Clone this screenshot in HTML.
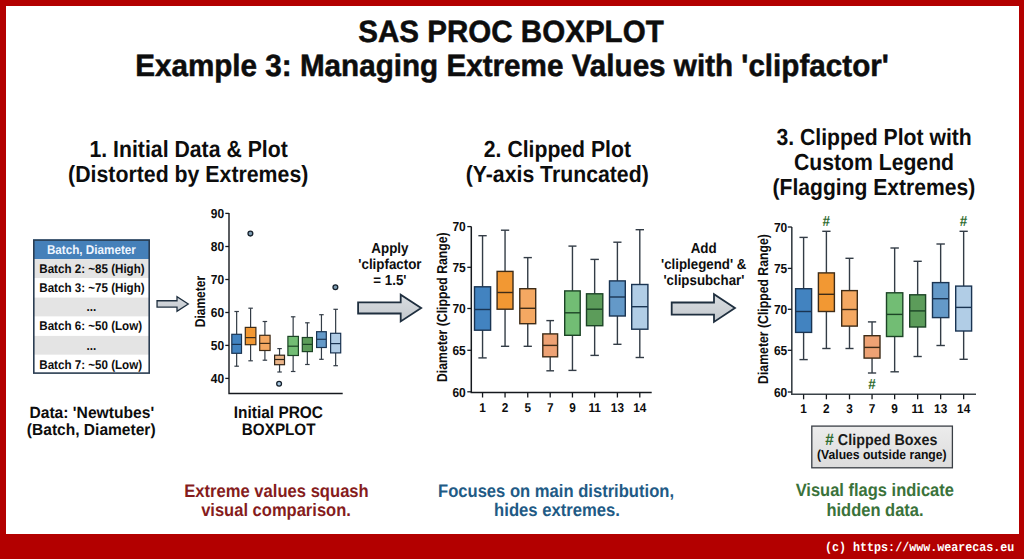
<!DOCTYPE html>
<html><head><meta charset="utf-8"><title>SAS PROC BOXPLOT clipfactor</title>
<style>
html,body{margin:0;padding:0;background:#fff;}
body{width:1024px;height:559px;overflow:hidden;}
svg{display:block;font-family:"Liberation Sans", sans-serif;text-rendering:geometricPrecision;}
</style></head><body>
<svg width="1024" height="559" viewBox="0 0 1024 559">
<defs>
<linearGradient id="ag" x1="0" y1="0" x2="0" y2="1"><stop offset="0" stop-color="#d9dde1"/><stop offset="1" stop-color="#c3c8cd"/></linearGradient>
<linearGradient id="lg" x1="0" y1="0" x2="0" y2="1"><stop offset="0" stop-color="#ececec"/><stop offset="1" stop-color="#dcdcdc"/></linearGradient>
</defs>
<rect x="0" y="0" width="1024" height="559" fill="#b30000"/>
<rect x="6" y="6" width="1013" height="528" fill="#ffffff"/>
<text transform="translate(511 41.9) scale(1.0 1.04)" font-size="29.55" text-anchor="middle" fill="#0d0d0d" font-weight="bold" stroke="#0d0d0d" stroke-width="0.5">SAS PROC BOXPLOT</text>
<text transform="translate(512 76.2) scale(1.0 1.04)" font-size="29.65" text-anchor="middle" fill="#0d0d0d" font-weight="bold" stroke="#0d0d0d" stroke-width="0.5">Example 3: Managing Extreme Values with 'clipfactor'</text>
<text transform="translate(188.6 156.7) scale(1.0 1.1)" font-size="21.25" text-anchor="middle" fill="#0d0d0d" font-weight="bold">1. Initial Data &amp; Plot</text>
<text transform="translate(188.2 182.2) scale(1.0 1.1)" font-size="21.3" text-anchor="middle" fill="#0d0d0d" font-weight="bold">(Distorted by Extremes)</text>
<text transform="translate(557.4 157.3) scale(1.0 1.1)" font-size="21.2" text-anchor="middle" fill="#0d0d0d" font-weight="bold">2. Clipped Plot</text>
<text transform="translate(557.2 181.8) scale(1.0 1.1)" font-size="21.25" text-anchor="middle" fill="#0d0d0d" font-weight="bold">(Y-axis Truncated)</text>
<text transform="translate(874.1 144.7) scale(1.0 1.1)" font-size="21.2" text-anchor="middle" fill="#0d0d0d" font-weight="bold">3. Clipped Plot with</text>
<text transform="translate(874 170.1) scale(1.0 1.1)" font-size="21.2" text-anchor="middle" fill="#0d0d0d" font-weight="bold">Custom Legend</text>
<text transform="translate(873.9 194.5) scale(1.0 1.1)" font-size="21.1" text-anchor="middle" fill="#0d0d0d" font-weight="bold">(Flagging Extremes)</text>
<rect x="33.1" y="239.4" width="116.8" height="19.6" fill="#4580b9"/>
<rect x="33.1" y="259" width="116.8" height="19.2" fill="#e4e4e4"/>
<rect x="33.1" y="278.2" width="116.8" height="19.4" fill="#ffffff"/>
<rect x="33.1" y="297.6" width="116.8" height="19.0" fill="#e4e4e4"/>
<rect x="33.1" y="316.6" width="116.8" height="19.3" fill="#ffffff"/>
<rect x="33.1" y="335.9" width="116.8" height="18.9" fill="#e4e4e4"/>
<rect x="33.1" y="354.8" width="116.8" height="19.0" fill="#ffffff"/>
<rect x="33.8" y="240.1" width="115.4" height="133.0" fill="none" stroke="#2a3d52" stroke-width="1.6"/>
<text transform="translate(91.4 253.8) scale(1.0 1.09)" font-size="11.7" text-anchor="middle" fill="#eef6ff" font-weight="bold">Batch, Diameter</text>
<text transform="translate(39.3 272.8) scale(1.0 1.09)" font-size="11.6" text-anchor="start" fill="#0d0d0d" font-weight="bold">Batch 2: ~85 (High)</text>
<text transform="translate(39.3 292.1) scale(1.0 1.09)" font-size="11.6" text-anchor="start" fill="#0d0d0d" font-weight="bold">Batch 3: ~75 (High)</text>
<text transform="translate(91.4 311.3) scale(1.0 1.09)" font-size="11.7" text-anchor="middle" fill="#0d0d0d" font-weight="bold">...</text>
<text transform="translate(39.3 330.4) scale(1.0 1.09)" font-size="11.6" text-anchor="start" fill="#0d0d0d" font-weight="bold">Batch 6: ~50 (Low)</text>
<text transform="translate(91.4 349.6) scale(1.0 1.09)" font-size="11.7" text-anchor="middle" fill="#0d0d0d" font-weight="bold">...</text>
<text transform="translate(39.3 368.5) scale(1.0 1.09)" font-size="11.6" text-anchor="start" fill="#0d0d0d" font-weight="bold">Batch 7: ~50 (Low)</text>
<text transform="translate(91.8 417.8) scale(1.0 1.04)" font-size="15.65" text-anchor="middle" fill="#0d0d0d" font-weight="bold">Data: 'Newtubes'</text>
<text transform="translate(91.2 434.5) scale(1.0 1.04)" font-size="15.55" text-anchor="middle" fill="#0d0d0d" font-weight="bold">(Batch, Diameter)</text>
<text transform="translate(278.4 417.7) scale(1.0 1.09)" font-size="15.45" text-anchor="middle" fill="#0d0d0d" font-weight="bold">Initial PROC</text>
<text transform="translate(278.7 435.3) scale(1.0 1.09)" font-size="15.25" text-anchor="middle" fill="#0d0d0d" font-weight="bold">BOXPLOT</text>
<path d="M157.05,300.75 L177,300.75 L177,296.75 L188.26,304.05 L177,311.35 L177,307.05 L157.05,307.05 Z" fill="url(#ag)" stroke="#1f2f3f" stroke-width="1.3" stroke-linejoin="miter"/>
<path d="M358.1,302.4 L400.7,302.4 L400.7,294.77 L421.16,308.1 L400.7,321.43 L400.7,313.5 L358.1,313.5 Z" fill="url(#ag)" stroke="#1f2f3f" stroke-width="1.8" stroke-linejoin="miter"/>
<path d="M671.7,302.5 L714,302.5 L714,294.17 L734.96,308.05 L714,321.93 L714,314.7 L671.7,314.7 Z" fill="url(#ag)" stroke="#1f2f3f" stroke-width="1.8" stroke-linejoin="miter"/>
<text transform="translate(389.9 253.1) scale(1.0 1.09)" font-size="13.4" text-anchor="middle" fill="#0d0d0d" font-weight="bold">Apply</text>
<text transform="translate(389.9 269.0) scale(1.0 1.09)" font-size="13.35" text-anchor="middle" fill="#0d0d0d" font-weight="bold">'clipfactor</text>
<text transform="translate(389.9 284.7) scale(1.0 1.09)" font-size="13.3" text-anchor="middle" fill="#0d0d0d" font-weight="bold">= 1.5'</text>
<text transform="translate(703.7 252.7) scale(1.0 1.09)" font-size="13.4" text-anchor="middle" fill="#0d0d0d" font-weight="bold">Add</text>
<text transform="translate(703.7 268.9) scale(1.0 1.09)" font-size="13.3" text-anchor="middle" fill="#0d0d0d" font-weight="bold">'cliplegend' &amp;</text>
<text transform="translate(703.9 285) scale(1.0 1.09)" font-size="13.3" text-anchor="middle" fill="#0d0d0d" font-weight="bold">'clipsubchar'</text>
<path d="M229,213.0 L229,393.5 L342.7,393.5" fill="none" stroke="#15191e" stroke-width="1.4"/>
<line x1="225.3" y1="213.4" x2="229" y2="213.4" stroke="#15191e" stroke-width="1.3"/>
<text transform="translate(224.2 217.7) scale(1.0 1.09)" font-size="12" text-anchor="end" fill="#0d0d0d" font-weight="bold">90</text>
<line x1="225.3" y1="246.5" x2="229" y2="246.5" stroke="#15191e" stroke-width="1.3"/>
<text transform="translate(224.2 250.8) scale(1.0 1.09)" font-size="12" text-anchor="end" fill="#0d0d0d" font-weight="bold">80</text>
<line x1="225.3" y1="279.5" x2="229" y2="279.5" stroke="#15191e" stroke-width="1.3"/>
<text transform="translate(224.2 283.8) scale(1.0 1.09)" font-size="12" text-anchor="end" fill="#0d0d0d" font-weight="bold">70</text>
<line x1="225.3" y1="312.5" x2="229" y2="312.5" stroke="#15191e" stroke-width="1.3"/>
<text transform="translate(224.2 316.8) scale(1.0 1.09)" font-size="12" text-anchor="end" fill="#0d0d0d" font-weight="bold">60</text>
<line x1="225.3" y1="345.4" x2="229" y2="345.4" stroke="#15191e" stroke-width="1.3"/>
<text transform="translate(224.2 349.7) scale(1.0 1.09)" font-size="12" text-anchor="end" fill="#0d0d0d" font-weight="bold">50</text>
<line x1="225.3" y1="378.4" x2="229" y2="378.4" stroke="#15191e" stroke-width="1.3"/>
<text transform="translate(224.2 382.7) scale(1.0 1.09)" font-size="12" text-anchor="end" fill="#0d0d0d" font-weight="bold">40</text>
<text transform="translate(204.5 301.6) rotate(-90) scale(1.0 1.19)" font-size="12" text-anchor="middle" fill="#0d0d0d" font-weight="bold">Diameter</text>
<line x1="236.65" y1="311.5" x2="236.65" y2="334.3" stroke="#333c46" stroke-width="1.2"/>
<line x1="236.65" y1="353.3" x2="236.65" y2="366.2" stroke="#333c46" stroke-width="1.2"/>
<line x1="234.4" y1="311.5" x2="238.9" y2="311.5" stroke="#333c46" stroke-width="1.2"/>
<line x1="234.4" y1="366.2" x2="238.9" y2="366.2" stroke="#333c46" stroke-width="1.2"/>
<rect x="231.8" y="334.3" width="9.7" height="19.0" fill="#4283c0" stroke="#1a3452" stroke-width="1.2"/>
<line x1="231.8" y1="344.4" x2="241.5" y2="344.4" stroke="#1a3452" stroke-width="1.2"/>
<line x1="250.6" y1="308.2" x2="250.6" y2="327.4" stroke="#333c46" stroke-width="1.2"/>
<line x1="250.6" y1="344.7" x2="250.6" y2="360.8" stroke="#333c46" stroke-width="1.2"/>
<line x1="248.35" y1="308.2" x2="252.85" y2="308.2" stroke="#333c46" stroke-width="1.2"/>
<line x1="248.35" y1="360.8" x2="252.85" y2="360.8" stroke="#333c46" stroke-width="1.2"/>
<rect x="245.3" y="327.4" width="10.6" height="17.3" fill="#f29833" stroke="#3e2c18" stroke-width="1.2"/>
<line x1="245.3" y1="337.6" x2="255.9" y2="337.6" stroke="#3e2c18" stroke-width="1.2"/>
<line x1="264.9" y1="321.5" x2="264.9" y2="335.3" stroke="#333c46" stroke-width="1.2"/>
<line x1="264.9" y1="350.5" x2="264.9" y2="360.2" stroke="#333c46" stroke-width="1.2"/>
<line x1="262.65" y1="321.5" x2="267.15" y2="321.5" stroke="#333c46" stroke-width="1.2"/>
<line x1="262.65" y1="360.2" x2="267.15" y2="360.2" stroke="#333c46" stroke-width="1.2"/>
<rect x="259.7" y="335.3" width="10.4" height="15.2" fill="#f4a862" stroke="#3e2c18" stroke-width="1.2"/>
<line x1="259.7" y1="343.4" x2="270.1" y2="343.4" stroke="#3e2c18" stroke-width="1.2"/>
<line x1="279.55" y1="348.6" x2="279.55" y2="355.2" stroke="#333c46" stroke-width="1.2"/>
<line x1="279.55" y1="364.7" x2="279.55" y2="372" stroke="#333c46" stroke-width="1.2"/>
<line x1="277.3" y1="348.6" x2="281.8" y2="348.6" stroke="#333c46" stroke-width="1.2"/>
<line x1="277.3" y1="372" x2="281.8" y2="372" stroke="#333c46" stroke-width="1.2"/>
<rect x="274.6" y="355.2" width="9.9" height="9.5" fill="#ebb488" stroke="#2e2418" stroke-width="1.2"/>
<line x1="274.6" y1="359.5" x2="284.5" y2="359.5" stroke="#2e2418" stroke-width="1.2"/>
<line x1="293.15" y1="316.8" x2="293.15" y2="336.4" stroke="#333c46" stroke-width="1.2"/>
<line x1="293.15" y1="355.5" x2="293.15" y2="371.5" stroke="#333c46" stroke-width="1.2"/>
<line x1="290.9" y1="316.8" x2="295.4" y2="316.8" stroke="#333c46" stroke-width="1.2"/>
<line x1="290.9" y1="371.5" x2="295.4" y2="371.5" stroke="#333c46" stroke-width="1.2"/>
<rect x="287.9" y="336.4" width="10.5" height="19.1" fill="#72bd74" stroke="#1c4426" stroke-width="1.2"/>
<line x1="287.9" y1="346.2" x2="298.4" y2="346.2" stroke="#1c4426" stroke-width="1.2"/>
<line x1="307.35" y1="322.8" x2="307.35" y2="337.5" stroke="#333c46" stroke-width="1.2"/>
<line x1="307.35" y1="351.6" x2="307.35" y2="364.5" stroke="#333c46" stroke-width="1.2"/>
<line x1="305.1" y1="322.8" x2="309.6" y2="322.8" stroke="#333c46" stroke-width="1.2"/>
<line x1="305.1" y1="364.5" x2="309.6" y2="364.5" stroke="#333c46" stroke-width="1.2"/>
<rect x="302.3" y="337.5" width="10.1" height="14.1" fill="#5c9c5a" stroke="#1c4426" stroke-width="1.2"/>
<line x1="302.3" y1="344.4" x2="312.4" y2="344.4" stroke="#1c4426" stroke-width="1.2"/>
<line x1="321.45" y1="314.7" x2="321.45" y2="331.7" stroke="#333c46" stroke-width="1.2"/>
<line x1="321.45" y1="347.5" x2="321.45" y2="359.3" stroke="#333c46" stroke-width="1.2"/>
<line x1="319.2" y1="314.7" x2="323.7" y2="314.7" stroke="#333c46" stroke-width="1.2"/>
<line x1="319.2" y1="359.3" x2="323.7" y2="359.3" stroke="#333c46" stroke-width="1.2"/>
<rect x="316.6" y="331.7" width="9.7" height="15.8" fill="#6499c8" stroke="#1a3452" stroke-width="1.2"/>
<line x1="316.6" y1="339.3" x2="326.3" y2="339.3" stroke="#1a3452" stroke-width="1.2"/>
<line x1="335.65" y1="309.3" x2="335.65" y2="333.3" stroke="#333c46" stroke-width="1.2"/>
<line x1="335.65" y1="352.9" x2="335.65" y2="365.7" stroke="#333c46" stroke-width="1.2"/>
<line x1="333.4" y1="309.3" x2="337.9" y2="309.3" stroke="#333c46" stroke-width="1.2"/>
<line x1="333.4" y1="365.7" x2="337.9" y2="365.7" stroke="#333c46" stroke-width="1.2"/>
<rect x="330.6" y="333.3" width="10.1" height="19.6" fill="#b1cde6" stroke="#1a3452" stroke-width="1.2"/>
<line x1="330.6" y1="343.6" x2="340.7" y2="343.6" stroke="#1a3452" stroke-width="1.2"/>
<circle cx="250.4" cy="233.6" r="2.4" fill="#7d9cb2" stroke="#16212c" stroke-width="1.3"/>
<circle cx="279.1" cy="383.8" r="2.4" fill="#a9c9e2" stroke="#16212c" stroke-width="1.3"/>
<circle cx="335.4" cy="287.2" r="2.4" fill="#7d9cb2" stroke="#16212c" stroke-width="1.3"/>
<path d="M471.3,226.6 L471.3,392.5 L651.7,392.5" fill="none" stroke="#15191e" stroke-width="1.5"/>
<line x1="467.3" y1="226.6" x2="471.3" y2="226.6" stroke="#15191e" stroke-width="1.3"/>
<text transform="translate(465.8 231.3) scale(1.0 1.09)" font-size="12" text-anchor="end" fill="#0d0d0d" font-weight="bold">70</text>
<line x1="467.3" y1="267.3" x2="471.3" y2="267.3" stroke="#15191e" stroke-width="1.3"/>
<text transform="translate(465.8 272.0) scale(1.0 1.09)" font-size="12" text-anchor="end" fill="#0d0d0d" font-weight="bold">75</text>
<line x1="467.3" y1="308.5" x2="471.3" y2="308.5" stroke="#15191e" stroke-width="1.3"/>
<text transform="translate(465.8 313.2) scale(1.0 1.09)" font-size="12" text-anchor="end" fill="#0d0d0d" font-weight="bold">70</text>
<line x1="467.3" y1="350.3" x2="471.3" y2="350.3" stroke="#15191e" stroke-width="1.3"/>
<text transform="translate(465.8 355.0) scale(1.0 1.09)" font-size="12" text-anchor="end" fill="#0d0d0d" font-weight="bold">65</text>
<line x1="467.3" y1="391.8" x2="471.3" y2="391.8" stroke="#15191e" stroke-width="1.3"/>
<text transform="translate(465.8 396.5) scale(1.0 1.09)" font-size="12" text-anchor="end" fill="#0d0d0d" font-weight="bold">60</text>
<line x1="482.55" y1="392.5" x2="482.55" y2="397.5" stroke="#15191e" stroke-width="1.3"/>
<text transform="translate(482.55 412) scale(1.0 1.09)" font-size="11.8" text-anchor="middle" fill="#0d0d0d" font-weight="bold">1</text>
<line x1="482.55" y1="235.7" x2="482.55" y2="286.8" stroke="#333c46" stroke-width="1.4"/>
<line x1="482.55" y1="330.2" x2="482.55" y2="357.9" stroke="#333c46" stroke-width="1.4"/>
<line x1="478.37" y1="235.7" x2="486.72" y2="235.7" stroke="#333c46" stroke-width="1.4"/>
<line x1="478.37" y1="357.9" x2="486.72" y2="357.9" stroke="#333c46" stroke-width="1.4"/>
<rect x="474.5" y="286.8" width="16.1" height="43.4" fill="#4283c0" stroke="#1a3452" stroke-width="1.4"/>
<line x1="474.5" y1="309.5" x2="490.6" y2="309.5" stroke="#1a3452" stroke-width="1.4"/>
<line x1="505.05" y1="392.5" x2="505.05" y2="397.5" stroke="#15191e" stroke-width="1.3"/>
<text transform="translate(505.05 412) scale(1.0 1.09)" font-size="11.8" text-anchor="middle" fill="#0d0d0d" font-weight="bold">2</text>
<line x1="505.05" y1="230.2" x2="505.05" y2="271.4" stroke="#333c46" stroke-width="1.4"/>
<line x1="505.05" y1="309.2" x2="505.05" y2="346.3" stroke="#333c46" stroke-width="1.4"/>
<line x1="500.93" y1="230.2" x2="509.18" y2="230.2" stroke="#333c46" stroke-width="1.4"/>
<line x1="500.93" y1="346.3" x2="509.18" y2="346.3" stroke="#333c46" stroke-width="1.4"/>
<rect x="497.1" y="271.4" width="15.9" height="37.8" fill="#f29833" stroke="#3e2c18" stroke-width="1.4"/>
<line x1="497.1" y1="292.5" x2="513.0" y2="292.5" stroke="#3e2c18" stroke-width="1.4"/>
<line x1="527.75" y1="392.5" x2="527.75" y2="397.5" stroke="#15191e" stroke-width="1.3"/>
<text transform="translate(527.75 412) scale(1.0 1.09)" font-size="11.8" text-anchor="middle" fill="#0d0d0d" font-weight="bold">5</text>
<line x1="527.75" y1="257.6" x2="527.75" y2="288.7" stroke="#333c46" stroke-width="1.4"/>
<line x1="527.75" y1="323.7" x2="527.75" y2="346.3" stroke="#333c46" stroke-width="1.4"/>
<line x1="523.62" y1="257.6" x2="531.88" y2="257.6" stroke="#333c46" stroke-width="1.4"/>
<line x1="523.62" y1="346.3" x2="531.88" y2="346.3" stroke="#333c46" stroke-width="1.4"/>
<rect x="519.8" y="288.7" width="15.9" height="35.0" fill="#f4a862" stroke="#3e2c18" stroke-width="1.4"/>
<line x1="519.8" y1="308.3" x2="535.7" y2="308.3" stroke="#3e2c18" stroke-width="1.4"/>
<line x1="550.2" y1="392.5" x2="550.2" y2="397.5" stroke="#15191e" stroke-width="1.3"/>
<text transform="translate(550.2 412) scale(1.0 1.09)" font-size="11.8" text-anchor="middle" fill="#0d0d0d" font-weight="bold">7</text>
<line x1="550.2" y1="320.6" x2="550.2" y2="333.9" stroke="#333c46" stroke-width="1.4"/>
<line x1="550.2" y1="356.8" x2="550.2" y2="370.8" stroke="#333c46" stroke-width="1.4"/>
<line x1="546.35" y1="320.6" x2="554.05" y2="320.6" stroke="#333c46" stroke-width="1.4"/>
<line x1="546.35" y1="370.8" x2="554.05" y2="370.8" stroke="#333c46" stroke-width="1.4"/>
<rect x="542.8" y="333.9" width="14.8" height="22.9" fill="#eea274" stroke="#3e2c18" stroke-width="1.4"/>
<line x1="542.8" y1="345.4" x2="557.6" y2="345.4" stroke="#3e2c18" stroke-width="1.4"/>
<line x1="572.45" y1="392.5" x2="572.45" y2="397.5" stroke="#15191e" stroke-width="1.3"/>
<text transform="translate(572.45 412) scale(1.0 1.09)" font-size="11.8" text-anchor="middle" fill="#0d0d0d" font-weight="bold">9</text>
<line x1="572.45" y1="246.1" x2="572.45" y2="290.9" stroke="#333c46" stroke-width="1.4"/>
<line x1="572.45" y1="335.3" x2="572.45" y2="370.4" stroke="#333c46" stroke-width="1.4"/>
<line x1="568.43" y1="246.1" x2="576.48" y2="246.1" stroke="#333c46" stroke-width="1.4"/>
<line x1="568.43" y1="370.4" x2="576.48" y2="370.4" stroke="#333c46" stroke-width="1.4"/>
<rect x="564.7" y="290.9" width="15.5" height="44.4" fill="#72bd74" stroke="#1c4426" stroke-width="1.4"/>
<line x1="564.7" y1="312.8" x2="580.2" y2="312.8" stroke="#1c4426" stroke-width="1.4"/>
<line x1="594.65" y1="392.5" x2="594.65" y2="397.5" stroke="#15191e" stroke-width="1.3"/>
<text transform="translate(594.65 412) scale(1.0 1.09)" font-size="11.8" text-anchor="middle" fill="#0d0d0d" font-weight="bold">11</text>
<line x1="594.65" y1="259.4" x2="594.65" y2="293.8" stroke="#333c46" stroke-width="1.4"/>
<line x1="594.65" y1="325.7" x2="594.65" y2="355.4" stroke="#333c46" stroke-width="1.4"/>
<line x1="590.43" y1="259.4" x2="598.88" y2="259.4" stroke="#333c46" stroke-width="1.4"/>
<line x1="590.43" y1="355.4" x2="598.88" y2="355.4" stroke="#333c46" stroke-width="1.4"/>
<rect x="586.5" y="293.8" width="16.3" height="31.9" fill="#5c9c5a" stroke="#1c4426" stroke-width="1.4"/>
<line x1="586.5" y1="309.2" x2="602.8" y2="309.2" stroke="#1c4426" stroke-width="1.4"/>
<line x1="617.4" y1="392.5" x2="617.4" y2="397.5" stroke="#15191e" stroke-width="1.3"/>
<text transform="translate(617.4 412) scale(1.0 1.09)" font-size="11.8" text-anchor="middle" fill="#0d0d0d" font-weight="bold">13</text>
<line x1="617.4" y1="242.2" x2="617.4" y2="280.9" stroke="#333c46" stroke-width="1.4"/>
<line x1="617.4" y1="316" x2="617.4" y2="344.3" stroke="#333c46" stroke-width="1.4"/>
<line x1="613.3" y1="242.2" x2="621.5" y2="242.2" stroke="#333c46" stroke-width="1.4"/>
<line x1="613.3" y1="344.3" x2="621.5" y2="344.3" stroke="#333c46" stroke-width="1.4"/>
<rect x="609.5" y="280.9" width="15.8" height="35.1" fill="#6499c8" stroke="#1a3452" stroke-width="1.4"/>
<line x1="609.5" y1="297" x2="625.3" y2="297" stroke="#1a3452" stroke-width="1.4"/>
<line x1="639.8" y1="392.5" x2="639.8" y2="397.5" stroke="#15191e" stroke-width="1.3"/>
<text transform="translate(639.8 412) scale(1.0 1.09)" font-size="11.8" text-anchor="middle" fill="#0d0d0d" font-weight="bold">14</text>
<line x1="639.8" y1="229.7" x2="639.8" y2="284.5" stroke="#333c46" stroke-width="1.4"/>
<line x1="639.8" y1="329.2" x2="639.8" y2="357.5" stroke="#333c46" stroke-width="1.4"/>
<line x1="635.6" y1="229.7" x2="644.0" y2="229.7" stroke="#333c46" stroke-width="1.4"/>
<line x1="635.6" y1="357.5" x2="644.0" y2="357.5" stroke="#333c46" stroke-width="1.4"/>
<rect x="631.7" y="284.5" width="16.2" height="44.7" fill="#b1cde6" stroke="#1a3452" stroke-width="1.4"/>
<line x1="631.7" y1="306.7" x2="647.9" y2="306.7" stroke="#1a3452" stroke-width="1.4"/>
<text transform="translate(447 307.2) rotate(-90) scale(1.0 1.17)" font-size="12.25" text-anchor="middle" fill="#0d0d0d" font-weight="bold">Diameter (Clipped Range)</text>
<path d="M791.8,227.0 L791.8,394.3 L976,394.3" fill="none" stroke="#3a4248" stroke-width="1.6"/>
<line x1="787.8" y1="227.0" x2="791.8" y2="227.0" stroke="#15191e" stroke-width="1.3"/>
<text transform="translate(787.3 231.7) scale(1.0 1.09)" font-size="12" text-anchor="end" fill="#0d0d0d" font-weight="bold">70</text>
<line x1="787.8" y1="268.4" x2="791.8" y2="268.4" stroke="#15191e" stroke-width="1.3"/>
<text transform="translate(787.3 273.1) scale(1.0 1.09)" font-size="12" text-anchor="end" fill="#0d0d0d" font-weight="bold">75</text>
<line x1="787.8" y1="309.3" x2="791.8" y2="309.3" stroke="#15191e" stroke-width="1.3"/>
<text transform="translate(787.3 314.0) scale(1.0 1.09)" font-size="12" text-anchor="end" fill="#0d0d0d" font-weight="bold">70</text>
<line x1="787.8" y1="350.3" x2="791.8" y2="350.3" stroke="#15191e" stroke-width="1.3"/>
<text transform="translate(787.3 355.0) scale(1.0 1.09)" font-size="12" text-anchor="end" fill="#0d0d0d" font-weight="bold">65</text>
<line x1="787.8" y1="392.0" x2="791.8" y2="392.0" stroke="#15191e" stroke-width="1.3"/>
<text transform="translate(787.3 396.7) scale(1.0 1.09)" font-size="12" text-anchor="end" fill="#0d0d0d" font-weight="bold">60</text>
<line x1="803.6" y1="394.3" x2="803.6" y2="399.3" stroke="#15191e" stroke-width="1.3"/>
<text transform="translate(803.6 413.3) scale(1.0 1.09)" font-size="11.8" text-anchor="middle" fill="#0d0d0d" font-weight="bold">1</text>
<line x1="803.6" y1="237.4" x2="803.6" y2="288.7" stroke="#333c46" stroke-width="1.4"/>
<line x1="803.6" y1="332.4" x2="803.6" y2="359.6" stroke="#333c46" stroke-width="1.4"/>
<line x1="799.45" y1="237.4" x2="807.75" y2="237.4" stroke="#333c46" stroke-width="1.4"/>
<line x1="799.45" y1="359.6" x2="807.75" y2="359.6" stroke="#333c46" stroke-width="1.4"/>
<rect x="795.6" y="288.7" width="16" height="43.7" fill="#4283c0" stroke="#1a3452" stroke-width="1.4"/>
<line x1="795.6" y1="311.5" x2="811.6" y2="311.5" stroke="#1a3452" stroke-width="1.4"/>
<line x1="826.4" y1="394.3" x2="826.4" y2="399.3" stroke="#15191e" stroke-width="1.3"/>
<text transform="translate(826.4 413.3) scale(1.0 1.09)" font-size="11.8" text-anchor="middle" fill="#0d0d0d" font-weight="bold">2</text>
<line x1="826.4" y1="231.3" x2="826.4" y2="272.9" stroke="#333c46" stroke-width="1.4"/>
<line x1="826.4" y1="311.5" x2="826.4" y2="348.5" stroke="#333c46" stroke-width="1.4"/>
<line x1="822.25" y1="231.3" x2="830.55" y2="231.3" stroke="#333c46" stroke-width="1.4"/>
<line x1="822.25" y1="348.5" x2="830.55" y2="348.5" stroke="#333c46" stroke-width="1.4"/>
<rect x="818.4" y="272.9" width="16" height="38.6" fill="#f29833" stroke="#3e2c18" stroke-width="1.4"/>
<line x1="818.4" y1="294.3" x2="834.4" y2="294.3" stroke="#3e2c18" stroke-width="1.4"/>
<line x1="849.5" y1="394.3" x2="849.5" y2="399.3" stroke="#15191e" stroke-width="1.3"/>
<text transform="translate(849.5 413.3) scale(1.0 1.09)" font-size="11.8" text-anchor="middle" fill="#0d0d0d" font-weight="bold">3</text>
<line x1="849.5" y1="258.3" x2="849.5" y2="290.6" stroke="#333c46" stroke-width="1.4"/>
<line x1="849.5" y1="326.1" x2="849.5" y2="348.5" stroke="#333c46" stroke-width="1.4"/>
<line x1="845.45" y1="258.3" x2="853.55" y2="258.3" stroke="#333c46" stroke-width="1.4"/>
<line x1="845.45" y1="348.5" x2="853.55" y2="348.5" stroke="#333c46" stroke-width="1.4"/>
<rect x="841.7" y="290.6" width="15.6" height="35.5" fill="#f4a862" stroke="#3e2c18" stroke-width="1.4"/>
<line x1="841.7" y1="309.5" x2="857.3" y2="309.5" stroke="#3e2c18" stroke-width="1.4"/>
<line x1="872.05" y1="394.3" x2="872.05" y2="399.3" stroke="#15191e" stroke-width="1.3"/>
<text transform="translate(872.05 413.3) scale(1.0 1.09)" font-size="11.8" text-anchor="middle" fill="#0d0d0d" font-weight="bold">7</text>
<line x1="872.05" y1="321.9" x2="872.05" y2="335.7" stroke="#333c46" stroke-width="1.4"/>
<line x1="872.05" y1="358.1" x2="872.05" y2="373" stroke="#333c46" stroke-width="1.4"/>
<line x1="867.92" y1="321.9" x2="876.17" y2="321.9" stroke="#333c46" stroke-width="1.4"/>
<line x1="867.92" y1="373" x2="876.17" y2="373" stroke="#333c46" stroke-width="1.4"/>
<rect x="864.1" y="335.7" width="15.9" height="22.4" fill="#eea274" stroke="#3e2c18" stroke-width="1.4"/>
<line x1="864.1" y1="347.4" x2="880.0" y2="347.4" stroke="#3e2c18" stroke-width="1.4"/>
<line x1="894.65" y1="394.3" x2="894.65" y2="399.3" stroke="#15191e" stroke-width="1.3"/>
<text transform="translate(894.65 413.3) scale(1.0 1.09)" font-size="11.8" text-anchor="middle" fill="#0d0d0d" font-weight="bold">9</text>
<line x1="894.65" y1="248" x2="894.65" y2="292.8" stroke="#333c46" stroke-width="1.4"/>
<line x1="894.65" y1="336.5" x2="894.65" y2="371.8" stroke="#333c46" stroke-width="1.4"/>
<line x1="890.43" y1="248" x2="898.88" y2="248" stroke="#333c46" stroke-width="1.4"/>
<line x1="890.43" y1="371.8" x2="898.88" y2="371.8" stroke="#333c46" stroke-width="1.4"/>
<rect x="886.5" y="292.8" width="16.3" height="43.7" fill="#72bd74" stroke="#1c4426" stroke-width="1.4"/>
<line x1="886.5" y1="314.4" x2="902.8" y2="314.4" stroke="#1c4426" stroke-width="1.4"/>
<line x1="917.65" y1="394.3" x2="917.65" y2="399.3" stroke="#15191e" stroke-width="1.3"/>
<text transform="translate(917.65 413.3) scale(1.0 1.09)" font-size="11.8" text-anchor="middle" fill="#0d0d0d" font-weight="bold">11</text>
<line x1="917.65" y1="261.3" x2="917.65" y2="294.8" stroke="#333c46" stroke-width="1.4"/>
<line x1="917.65" y1="327" x2="917.65" y2="356.5" stroke="#333c46" stroke-width="1.4"/>
<line x1="913.52" y1="261.3" x2="921.77" y2="261.3" stroke="#333c46" stroke-width="1.4"/>
<line x1="913.52" y1="356.5" x2="921.77" y2="356.5" stroke="#333c46" stroke-width="1.4"/>
<rect x="909.7" y="294.8" width="15.9" height="32.2" fill="#5c9c5a" stroke="#1c4426" stroke-width="1.4"/>
<line x1="909.7" y1="310.9" x2="925.6" y2="310.9" stroke="#1c4426" stroke-width="1.4"/>
<line x1="940.65" y1="394.3" x2="940.65" y2="399.3" stroke="#15191e" stroke-width="1.3"/>
<text transform="translate(940.65 413.3) scale(1.0 1.09)" font-size="11.8" text-anchor="middle" fill="#0d0d0d" font-weight="bold">13</text>
<line x1="940.65" y1="244" x2="940.65" y2="282.6" stroke="#333c46" stroke-width="1.4"/>
<line x1="940.65" y1="317.6" x2="940.65" y2="345.5" stroke="#333c46" stroke-width="1.4"/>
<line x1="936.43" y1="244" x2="944.88" y2="244" stroke="#333c46" stroke-width="1.4"/>
<line x1="936.43" y1="345.5" x2="944.88" y2="345.5" stroke="#333c46" stroke-width="1.4"/>
<rect x="932.5" y="282.6" width="16.3" height="35.0" fill="#6499c8" stroke="#1a3452" stroke-width="1.4"/>
<line x1="932.5" y1="298.7" x2="948.8" y2="298.7" stroke="#1a3452" stroke-width="1.4"/>
<line x1="963.65" y1="394.3" x2="963.65" y2="399.3" stroke="#15191e" stroke-width="1.3"/>
<text transform="translate(963.65 413.3) scale(1.0 1.09)" font-size="11.8" text-anchor="middle" fill="#0d0d0d" font-weight="bold">14</text>
<line x1="963.65" y1="231.3" x2="963.65" y2="286.1" stroke="#333c46" stroke-width="1.4"/>
<line x1="963.65" y1="331" x2="963.65" y2="359.3" stroke="#333c46" stroke-width="1.4"/>
<line x1="959.52" y1="231.3" x2="967.77" y2="231.3" stroke="#333c46" stroke-width="1.4"/>
<line x1="959.52" y1="359.3" x2="967.77" y2="359.3" stroke="#333c46" stroke-width="1.4"/>
<rect x="955.7" y="286.1" width="15.9" height="44.9" fill="#b1cde6" stroke="#1a3452" stroke-width="1.4"/>
<line x1="955.7" y1="307.4" x2="971.6" y2="307.4" stroke="#1a3452" stroke-width="1.4"/>
<text transform="translate(767.5 309) rotate(-90) scale(1.0 1.17)" font-size="12.25" text-anchor="middle" fill="#0d0d0d" font-weight="bold">Diameter (Clipped Range)</text>
<text transform="translate(826.2 226) scale(1.0 1.09)" font-size="13.5" text-anchor="middle" fill="#2e6b2e" font-weight="bold">#</text>
<text transform="translate(872 389) scale(1.0 1.09)" font-size="13.5" text-anchor="middle" fill="#2e6b2e" font-weight="bold">#</text>
<text transform="translate(963.6 226) scale(1.0 1.09)" font-size="13.5" text-anchor="middle" fill="#2e6b2e" font-weight="bold">#</text>
<rect x="811.8" y="426.1" width="140.6" height="41.7" fill="url(#lg)" stroke="#3a3f45" stroke-width="1.3"/>
<text transform="translate(881.4 444.8) scale(1 1.09)" font-size="14.35" text-anchor="middle" fill="#1a1a1a" font-weight="bold"><tspan fill="#2e6b2e" font-size="15.3">#</tspan> Clipped Boxes</text>
<text transform="translate(881.8 458.8) scale(1.0 1.09)" font-size="12.15" text-anchor="middle" fill="#0d0d0d" font-weight="bold">(Values outside range)</text>
<text transform="translate(276.5 496.5) scale(1.0 1.09)" font-size="16.6" text-anchor="middle" fill="#861c1c" font-weight="bold">Extreme values squash</text>
<text transform="translate(276 516) scale(1.0 1.09)" font-size="16.55" text-anchor="middle" fill="#861c1c" font-weight="bold">visual comparison.</text>
<text transform="translate(556 496.6) scale(1.0 1.09)" font-size="16.6" text-anchor="middle" fill="#215a85" font-weight="bold">Focuses on main distribution,</text>
<text transform="translate(557 516.1) scale(1.0 1.09)" font-size="16.65" text-anchor="middle" fill="#215a85" font-weight="bold">hides extremes.</text>
<text transform="translate(874.8 496.1) scale(1.0 1.09)" font-size="16.5" text-anchor="middle" fill="#3a723a" font-weight="bold">Visual flags indicate</text>
<text transform="translate(875 516) scale(1.0 1.09)" font-size="16.5" text-anchor="middle" fill="#3a723a" font-weight="bold">hidden data.</text>
<text transform="translate(825 551) scale(1 1.1)" font-family="Liberation Mono, monospace" font-size="11.7" font-weight="bold" fill="#ffffff">(c) https://www.wearecas.eu</text>
</svg>
</body></html>
